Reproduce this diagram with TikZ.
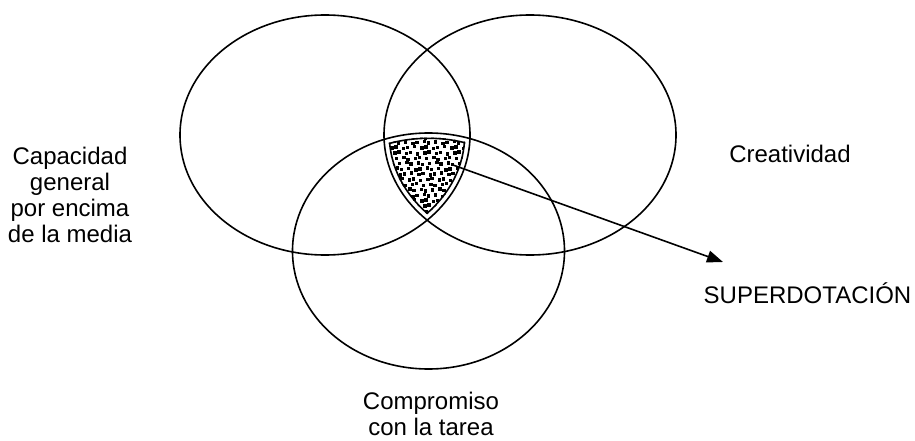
\documentclass[tikz,border=0pt]{standalone}
\usepackage{fontspec}
\setmainfont{Liberation Sans}
\usetikzlibrary{arrows.meta}
\begin{document}
\begin{tikzpicture}[x=1pt,y=-1pt,
  venn/.style={draw=black,line width=1.6pt},
  lbl/.style={font=\fontsize{24}{25.8}\selectfont,inner sep=0pt,align=center},
  dotsq/.style={fill=black},
  ptr/.style={line width=1.6pt,-{Triangle[length=16pt,width=12pt]}}
  ]
\useasboundingbox[fill=white] (0,0) rectangle (915,441);
% three circles
\draw[venn] (325,135) ellipse [x radius=145, y radius=120];
\draw[venn] (530,135) ellipse [x radius=146, y radius=120];
\draw[venn] (428.5,251) ellipse [x radius=136, y radius=118];
% shaded intersection
\begin{scope}
  \clip (325,135) ellipse [x radius=140.5, y radius=115.5];
  \clip (530,135) ellipse [x radius=141.5, y radius=115.5];
  \clip (428.5,251) ellipse [x radius=131.5, y radius=113.5];
  \foreach \i in {0,...,15}{
    \foreach \j in {0,...,16}{
      \pgfmathsetmacro{\px}{386+6*\i+3*mod(\j,2)+0.6*mod(\i*7+\j*3,5)-1.2}
      \pgfmathsetmacro{\py}{130+5.3*\j+0.5*mod(\i*3+\j*11,5)-1}
      \fill[dotsq] (\px,\py) rectangle ++(3.4,3.4);
    }
  }
  \draw[line width=3.2pt] (325,135) ellipse [x radius=140.5, y radius=115.5];
  \draw[line width=3.2pt] (530,135) ellipse [x radius=141.5, y radius=115.5];
  \draw[line width=3.2pt] (428.5,251) ellipse [x radius=131.5, y radius=113.5];
\end{scope}
% labels
\node[lbl] (cap) at (70,195) {Capacidad\\general\\por encima\\de la media};
\node[lbl,anchor=base] (cre) at (790,162) {Creatividad};
\node[lbl,anchor=base] (sup) at (807.5,303) {SUPERDOTACIÓN};
\node[lbl] (com) at (431,414) {Compromiso\\con la tarea};
% arrow
\coordinate (from) at (453,165);
\coordinate (tip) at (723,262);
\draw[ptr] (from) -- (tip);
\end{tikzpicture}
\end{document}
